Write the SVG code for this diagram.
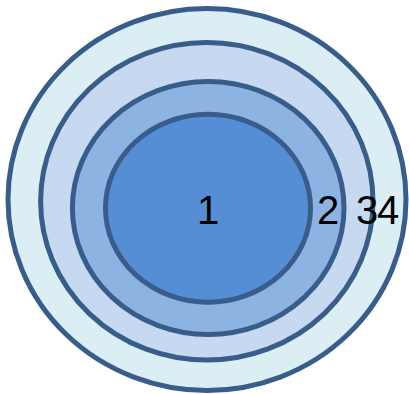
<svg xmlns="http://www.w3.org/2000/svg" width="409" height="395" viewBox="0 0 409 395">
<style>
.ring{stroke:#385D8A;stroke-width:5}
.lbl{font-family:"Liberation Sans",Arial,sans-serif;font-size:40px;fill:#000}
</style>
<rect width="409" height="395" fill="#fff"/>
<g id="ring4"><ellipse class="ring" cx="207" cy="199.5" rx="199" ry="191" fill="#DAEEF3"/></g>
<g id="ring3"><ellipse class="ring" cx="206.8" cy="201.3" rx="166.2" ry="158.8" fill="#C6D9F0"/></g>
<g id="ring2"><ellipse class="ring" cx="208.2" cy="208" rx="135.8" ry="126.5" fill="#8DB3E2"/></g>
<g id="ring1"><ellipse class="ring" cx="208" cy="208.2" rx="102.5" ry="94" fill="#558ED5"/></g>
<g id="labels">
<text class="lbl" x="197" y="224">1</text>
<text class="lbl" x="317" y="224">2</text>
<text class="lbl" x="356" y="224">3</text>
<text class="lbl" x="377" y="224">4</text>
</g>
<g id="connectors"/>
</svg>
